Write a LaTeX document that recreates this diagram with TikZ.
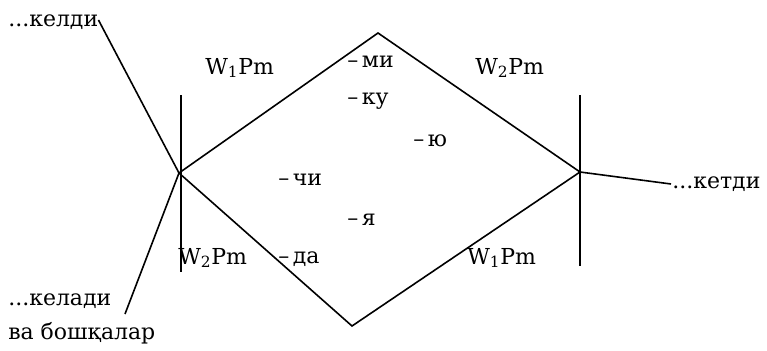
\documentclass[tikz,border=0pt]{standalone}
\usepackage{fontspec}
\setmainfont{DejaVu Serif}
\usetikzlibrary{positioning}
\tikzset{
    word/.style={
        inner sep=0pt, anchor=base west,
        font=\fontsize{16.5}{19}\selectfont
    },
    branch/.style={
        line width=1.2pt, draw=black
    },
    bar/.style={
        line width=1.2pt, draw=black
    },
}

\begin{document}
\begin{tikzpicture}[x=0.75pt, y=-0.75pt]
    \useasboundingbox (0,0) rectangle (767,350);

    % diamond corners
    \coordinate (left) at (179,173);
    \coordinate (top) at (378,33);
    \coordinate (right) at (580,172);
    \coordinate (bottom) at (352,326);

    % bars
    \coordinate (lbar top) at (181,95);
    \coordinate (lbar bot) at (181,272);
    \coordinate (rbar top) at (580,95);
    \coordinate (rbar bot) at (580,266);

    % words
    \node[word] (keldi) at (8,26) {...келди};
    \node[word] (keladi) at (8,305) {...келади};
    \node[word] (boshqa) at (8,339) {ва бошқалар};
    \node[word] (ketdi) at (672,188) {...кетди};

    \node[word] (wtl) at (205,74) {W\textsubscript{1}Pm};
    \node[word] (wtr) at (475,74) {W\textsubscript{2}Pm};
    \node[word] (wbl) at (178,264) {W\textsubscript{2}Pm};
    \node[word] (wbr) at (467,264) {W\textsubscript{1}Pm};

    % suffixes
    \node[word] (mi) at (347,67) {–\,ми};
    \node[word] (ku) at (347,104) {–\,ку};
    \node[word] (yu) at (413,146) {–\,ю};
    \node[word] (chi) at (278,185) {–\,чи};
    \node[word] (ya) at (347,225) {–\,я};
    \node[word] (da) at (278,263) {–\,да};

    \coordinate (keladi end) at (125,314);
    \coordinate (ketdi end) at (671,184);

    \draw[branch] (left) -- (top) -- (right) -- (bottom) -- cycle;
    \draw[bar] (lbar top) -- (lbar bot);
    \draw[bar] (rbar top) -- (rbar bot);
    \draw[branch] (keldi.base east) ++(0,-6) -- (left);
    \draw[branch] (left) -- (keladi end);
    \draw[branch] (right) -- (ketdi end);
\end{tikzpicture}
\end{document}
